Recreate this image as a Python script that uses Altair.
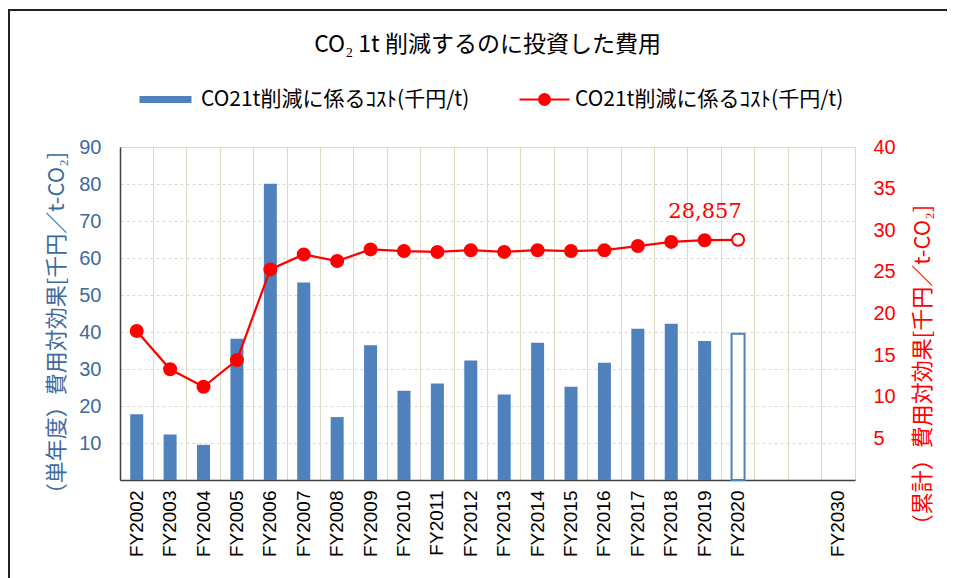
import altair as alt
import pandas as pd

# ---------------- data ----------------
years = ["FY2002", "FY2003", "FY2004", "FY2005", "FY2006", "FY2007", "FY2008",
         "FY2009", "FY2010", "FY2011", "FY2012", "FY2013", "FY2014", "FY2015",
         "FY2016", "FY2017", "FY2018", "FY2019", "FY2020"]
x_domain = years + [" ", "  ", "FY2030"]
single_year = [17.8, 12.3, 9.5, 38.2, 80.1, 53.4, 17.0, 36.4, 24.1, 26.1,
               32.3, 23.1, 37.1, 25.2, 31.7, 40.9, 42.2, 37.6, 39.5]
cumulative = [17.9, 13.3, 11.2, 14.4, 25.3, 27.1, 26.3, 27.7, 27.5, 27.4,
              27.6, 27.4, 27.6, 27.5, 27.6, 28.1, 28.6, 28.8, 28.857]
bar_kind = ["bar"] * 18 + ["bar_open"]
pt_kind = ["cum"] * 18 + ["cum_open"]
left_ticks = [10, 20, 30, 40, 50, 60, 70, 80, 90]
right_ticks = [5, 10, 15, 20, 25, 30, 35, 40]

title_text = "CO₂ 1t 削減するのに投資した費用"
legend_text = "CO21t削減に係るｺｽﾄ(千円/t)"
left_title = "（単年度）費用対効果[千円／t-CO₂]"
right_title = "（累計）費用対効果[千円／t-CO₂]"

df = pd.DataFrame({"cat": years, "single": single_year, "cum": cumulative,
                   "bkind": bar_kind, "pkind": pt_kind})
frame_df = pd.DataFrame({"a": [0]})

# ---------------- style ----------------
W, H = 735, 333
BLUE = "#4F81BD"
RED = "#FF0000"
GRID = "#DDD9C3"
AXIS_BLUE = "#3E6A9E"
DARK = "#404040"
JP = "Noto Sans CJK JP"
LAT = "Liberation Sans"

xscale = alt.Scale(domain=x_domain, paddingInner=0, paddingOuter=0)
rscale = alt.Scale(domain=[0, 40], nice=False)

bars = alt.Chart(df).mark_bar(size=13, stroke=BLUE).encode(
    x=alt.X("cat:N", scale=xscale, sort=None, title=None,
            axis=alt.Axis(orient="bottom", labelAngle=-90, labelFont=LAT,
                          labelFontSize=19, labelColor="black", labelPadding=10,
                          ticks=False, tickSize=0, grid=False, domainColor=DARK,
                          domainWidth=1.5)),
    y=alt.Y("single:Q", scale=alt.Scale(domain=[0, 90], nice=False),
            title=left_title,
            axis=alt.Axis(orient="left", values=left_ticks, grid=True,
                          gridColor=GRID, gridDash=[3, 3], gridWidth=1,
                          ticks=False, tickSize=0, labelPadding=19,
                          labelFontSize=20, labelColor=AXIS_BLUE, labelFont=LAT,
                          domainColor=DARK, domainWidth=1.5,
                          titleFont=JP, titleFontSize=22, titleColor=AXIS_BLUE,
                          titleFontWeight="normal", titleAngle=270, titleX=-64,
                          titleY=181, titleAlign="center", titleBaseline="middle")),
    fill=alt.Fill("bkind:N",
                  scale=alt.Scale(domain=["bar", "bar_open"], range=[BLUE, "white"]),
                  legend=alt.Legend(orient="none", legendX=35, legendY=-58,
                                    values=["bar"], title=None,
                                    labelExpr="'" + legend_text + "'",
                                    labelFont=JP, labelFontSize=21, labelColor="black",
                                    labelLimit=500, labelOffset=25,
                                    symbolType="M-26,-3.5H26V3.5H-26Z",
                                    symbolSize=4, symbolStrokeWidth=0)),
    strokeWidth=alt.condition(alt.datum.bkind == "bar_open", alt.value(2), alt.value(0)),
)

line = alt.Chart(df).mark_line(color=RED, strokeWidth=2.25).encode(
    x=alt.X("cat:N", scale=xscale, sort=None, title=None,
            axis=alt.Axis(orient="bottom", grid=True, gridColor=GRID, gridWidth=1,
                          bandPosition=0, labels=False, ticks=False, domain=False)),
    y=alt.Y("cum:Q", scale=rscale, title=right_title,
            axis=alt.Axis(orient="right", values=right_ticks, grid=False,
                          ticks=False, tickSize=0, domain=False, labelPadding=18,
                          labelFontSize=20, labelColor=RED, labelFont=LAT,
                          titleFont=JP, titleFontSize=22, titleColor=RED,
                          titleFontWeight="normal", titleAngle=270, titleX=67,
                          titleY=223, titleAlign="center", titleBaseline="middle")),
)

points = alt.Chart(df).mark_point(filled=True, size=144, stroke=RED,
                                  strokeWidth=2, opacity=1).encode(
    x=alt.X("cat:N", scale=xscale, sort=None, axis=None),
    y=alt.Y("cum:Q", scale=rscale, axis=None),
    fill=alt.Fill("pkind:N",
                  scale=alt.Scale(domain=["cum", "cum_open"], range=[RED, "white"]),
                  legend=alt.Legend(orient="none", legendX=414, legendY=-58,
                                    values=["cum"], title=None,
                                    labelExpr="'" + legend_text + "'",
                                    labelFont=JP, labelFontSize=21, labelColor="black",
                                    labelLimit=500, labelOffset=20,
                                    symbolType="M-25,0H25M-5.5,0A5.5,5.5,0,1,1,5.5,0A5.5,5.5,0,1,1,-5.5,0Z",
                                    symbolSize=4, symbolStrokeColor=RED,
                                    symbolStrokeWidth=2)),
)

label = alt.Chart(df).transform_filter(
    alt.datum.cat == "FY2020"
).transform_calculate(
    lbl="format(datum.cum * 1000, ',.0f')"
).mark_text(font="DejaVu Serif", fontSize=21, color=RED, dx=-33, dy=-22,
            baseline="alphabetic", align="center").encode(
    x=alt.X("cat:N", scale=xscale, sort=None, axis=None),
    y=alt.Y("cum:Q", scale=rscale, axis=None),
    text="lbl:N",
)

frame_top = alt.Chart(frame_df).mark_rule(color="#222222", strokeWidth=2).encode(
    x=alt.value(-112), x2=alt.value(840), y=alt.value(-137))
frame_left = alt.Chart(frame_df).mark_rule(color="#222222", strokeWidth=2).encode(
    x=alt.value(-111), y=alt.value(-137), y2=alt.value(440))

chart = alt.layer(frame_top, frame_left, bars, line, points, label).resolve_scale(
    y="independent", fill="independent"
).resolve_axis(
    x="independent", y="independent"
).resolve_legend(
    fill="independent"
).properties(
    width=W, height=H,
    autosize=alt.AutoSizeParams(type="none"),
    padding={"left": 112, "top": 139, "right": 92, "bottom": 98},
    title=alt.Title(title_text, font=JP, fontSize=23, fontWeight="normal",
                    color="black", anchor="middle", dy=52),
).configure_view(
    stroke=GRID, strokeWidth=1
)

chart.save("out.html", embed_options={"renderer": "svg", "actions": False})
